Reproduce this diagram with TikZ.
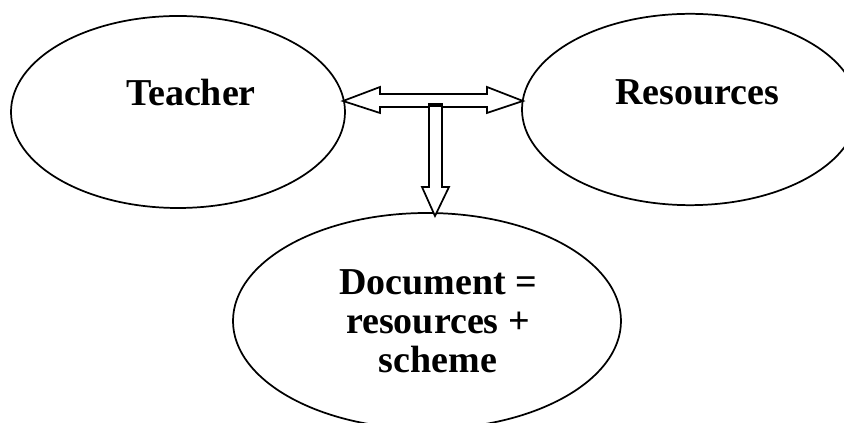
\documentclass[tikz,border=0pt]{standalone}
\usepackage{fontspec}
\setmainfont{Liberation Serif}
\usetikzlibrary{shapes.geometric}
\begin{document}
\begin{tikzpicture}[x=0.75pt,y=-0.75pt,
  oval/.style={draw=black,ellipse,line width=1.3pt,inner sep=0pt},
  lbl/.style={font=\bfseries\fontsize{28.5}{29.3}\selectfont,align=center,inner sep=0pt},
  blockarrow/.style={draw=black,fill=white,line width=1.3pt,line join=miter}]
\useasboundingbox (0,0) rectangle (844,423);
\clip (0,0) rectangle (844,423);
\node[oval,minimum width=250.5pt,minimum height=144pt] (teacher) at (178,112) {};
\node[oval,minimum width=252pt,minimum height=143.5pt] (resources) at (690,109.5) {};
\node[oval,minimum width=291pt,minimum height=162pt] (document) at (427,321) {};
\node[lbl] (tteacher) at (191,93) {Teacher};
\node[lbl] (tresources) at (697,92) {Resources};
\node[lbl] (tdocument) at (438,321) {Document =\\resources +\\scheme};
% double block arrow between Teacher and Resources
\draw[blockarrow] (343,101) -- (380,87) -- (380,94) -- (487,94) -- (487,87)
  -- (523,101) -- (487,113) -- (487,107) -- (380,107) -- (380,113) -- cycle;
% down block arrow to Document
\draw[blockarrow] (429,104) -- (429,187) -- (422,187) -- (435,216) -- (449,187)
  -- (442,187) -- (442,104) -- cycle;
\draw[line width=2.2pt] (429,105.5) -- (442,105.5);
\end{tikzpicture}
\end{document}
